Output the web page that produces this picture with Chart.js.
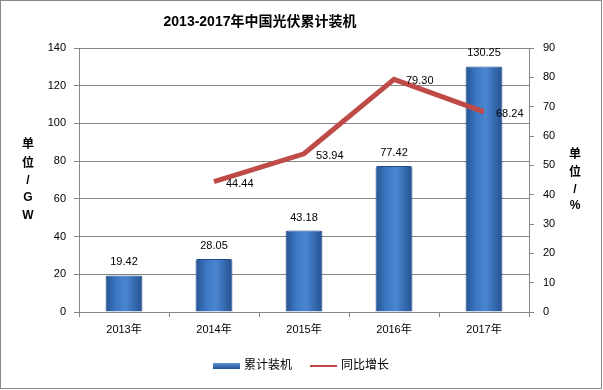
<!DOCTYPE html>
<html>
<head>
<meta charset="utf-8">
<script src="https://cdn.jsdelivr.net/npm/chart.js@4.4.1/dist/chart.umd.min.js"></script>
<style>
  html, body { margin: 0; padding: 0; background: #fff; }
  #wrap { width: 603px; height: 390px; }
</style>
</head>
<body>
<div id="wrap"><canvas id="pv"></canvas></div>
<script>
// data
const years = ["2013年", "2014年", "2015年", "2016年", "2017年"];
const capacity = [19.42, 28.05, 43.18, 77.42, 130.25];   // 累计装机, GW
const growth = [null, 44.44, 53.94, 79.30, 68.24];       // 同比增长, %

const titleText = "2013-2017年中国光伏累计装机";
const leftTitle = ["单", "位", "/", "G", "W"];
const rightTitle = ["单", "位", "/", "%"];
const seriesNames = ["累计装机", "同比增长"];

const FONT = "'Liberation Sans', Arial, 'Noto Sans CJK SC', sans-serif";
const LINE_RED = "#be4b48";
const GRID = "#868686";

function barFill(ctx) {
  const chart = ctx.chart;
  if (!chart.chartArea || !chart.scales.x) return "#3f74bc";
  const cx = chart.scales.x.getPixelForValue(ctx.dataIndex);
  const g = chart.ctx.createLinearGradient(cx - 19, 0, cx + 19, 0);
  g.addColorStop(0, "#23518f");
  g.addColorStop(0.3, "#3e78c4");
  g.addColorStop(0.55, "#4a86d2");
  g.addColorStop(1, "#224f8e");
  return g;
}

// title, axis titles, legend, frame and value labels
const decor = {
  id: "decor",
  afterDatasetsDraw(chart) {
    const c = chart.ctx;
    c.save();
    c.fillStyle = "#000";
    c.font = "11px " + FONT;
    c.textBaseline = "middle";

    // bar value labels (above bars)
    const barMeta = chart.getDatasetMeta(0);
    c.textAlign = "center";
    barMeta.data.forEach((el, i) => {
      c.fillText(capacity[i].toFixed(2), el.x, el.y - 13);
    });

    // line value labels (right of point)
    const lineMeta = chart.getDatasetMeta(1);
    c.textAlign = "left";
    lineMeta.data.forEach((el, i) => {
      if (growth[i] == null) return;
      c.fillText(growth[i].toFixed(2), el.x + 12, el.y + 2);
    });
    c.restore();
  },
  afterDraw(chart) {
    const c = chart.ctx;
    c.save();
    // outer frame
    c.strokeStyle = "#8a8a8a";
    c.lineWidth = 1;
    c.strokeRect(0.5, 0.5, 601, 388);

    // title
    c.fillStyle = "#000";
    c.font = "bold 14px " + FONT;
    c.textAlign = "center";
    c.textBaseline = "middle";
    c.fillText(titleText, 260, 22);

    // axis titles, stacked
    c.font = "bold 12px " + FONT;
    const ly = [145, 164, 181, 198, 216];
    leftTitle.forEach((t, i) => c.fillText(t, 28, ly[i]));
    const ry = [155, 173, 190, 206];
    rightTitle.forEach((t, i) => c.fillText(t, 575, ry[i]));

    // legend
    const g = c.createLinearGradient(0, 363, 0, 369);
    g.addColorStop(0, "#5d93d6");
    g.addColorStop(1, "#23518f");
    c.fillStyle = g;
    c.fillRect(213, 363, 27, 6);
    c.strokeStyle = LINE_RED;
    c.lineWidth = 2;
    c.beginPath();
    c.moveTo(310, 366);
    c.lineTo(337, 366);
    c.stroke();
    c.fillStyle = "#000";
    c.font = "12px " + FONT;
    c.textAlign = "left";
    c.fillText(seriesNames[0], 244, 366);
    c.fillText(seriesNames[1], 341, 366);
    c.restore();
  }
};

new Chart(document.getElementById("pv"), {
  type: "bar",
  data: {
    labels: years,
    datasets: [
      {
        label: seriesNames[0],
        data: capacity,
        yAxisID: "y",
        backgroundColor: barFill,
        borderColor: "#1f4a85",
        borderWidth: 1,
        borderRadius: 2,
        borderSkipped: "bottom",
        categoryPercentage: 1,
        barPercentage: 0.41,
        order: 2
      },
      {
        type: "line",
        label: seriesNames[1],
        data: growth,
        yAxisID: "y1",
        borderColor: LINE_RED,
        borderWidth: 5,
        pointRadius: 0,
        tension: 0,
        spanGaps: false,
        order: 1
      }
    ]
  },
  options: {
    responsive: true,
    maintainAspectRatio: false,
    animation: false,
    layout: { padding: { top: 48, left: 0, right: 0, bottom: 0 } },
    plugins: {
      legend: { display: false },
      title: { display: false },
      tooltip: { enabled: false }
    },
    scales: {
      x: {
        offset: true,
        grid: { offset: true, drawOnChartArea: false, tickLength: 5, color: GRID },
        border: { color: GRID },
        ticks: { color: "#000", font: { size: 11, family: FONT }, padding: 6 },
        afterFit(s) { s.height = 78; }
      },
      y: {
        position: "left",
        min: 0, max: 140,
        ticks: { stepSize: 20, color: "#000", font: { size: 11, family: FONT }, padding: 8 },
        grid: { color: GRID, tickLength: 5 },
        border: { color: GRID },
        afterFit(s) { s.width = 79; }
      },
      y1: {
        position: "right",
        min: 0, max: 90,
        ticks: { stepSize: 10, color: "#000", font: { size: 11, family: FONT }, padding: 9 },
        grid: { drawOnChartArea: false, color: GRID, tickLength: 5 },
        border: { color: GRID },
        afterFit(s) { s.width = 74; }
      }
    }
  },
  plugins: [decor]
});
</script>
</body>
</html>
